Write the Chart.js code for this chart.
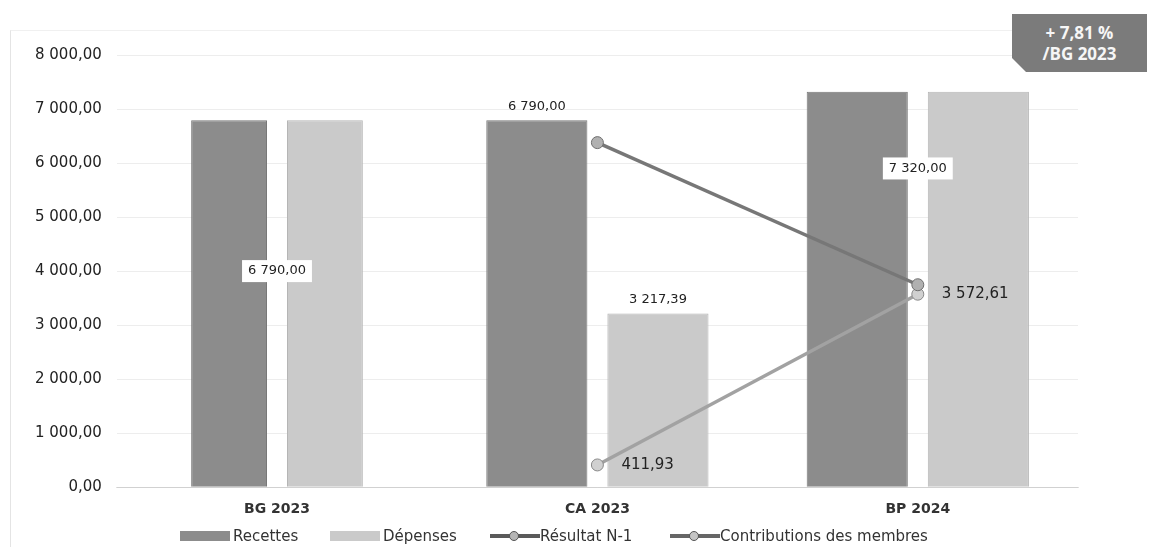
<!DOCTYPE html>
<html lang="fr">
<head>
<meta charset="utf-8">
<script src="https://cdn.jsdelivr.net/npm/chart.js@4.4.1/dist/chart.umd.min.js"></script>
<style>
  html, body { margin: 0; padding: 0; background: #fff; }
  body { width: 1160px; height: 547px; position: relative; overflow: hidden; font-family: "DejaVu Sans", Verdana, sans-serif; }
  #wrap { position: absolute; left: 0; top: 0; width: 1160px; height: 532px; }
  #frame { position: absolute; left: 10px; top: 30px; width: 1095px; height: 520px; border-left: 1px solid #e4e4e4; border-top: 1px solid #f0f0f0; }
  #badge {
    position: absolute; left: 1012px; top: 14px; width: 135px; height: 58px;
    background: #7b7b7b; color: #f6f6f6; font-weight: bold; font-size: 17px; line-height: 21px;
    text-align: center; box-sizing: border-box; padding-top: 8px;
    clip-path: polygon(0 0, 100% 0, 100% 100%, 14px 100%, 0 calc(100% - 14px));
    font-family: "Open Sans", "DejaVu Sans", sans-serif;
  }
  #legend { position: absolute; left: 0; top: 527px; width: 1160px; height: 20px; font-size: 15px; color: #333; white-space: nowrap; }
  #legend span.item { position: absolute; top: 0; }
  .box { display: inline-block; width: 50px; height: 10px; vertical-align: 0px; margin-right: 3px; }
  .ln { display: inline-block; position: relative; width: 50px; height: 10px; vertical-align: 0px; }
  .ln::before { content: ""; position: absolute; left: 0; right: 0; top: 3px; height: 4px; }
  .ln::after { content: ""; position: absolute; left: 19px; top: 0; width: 8px; height: 8px; border-radius: 50%; border: 1px solid #555; }
  .l1::before { background: #5a5a5a; } .l1::after { background: #b5b5b5; }
  .l2::before { background: #666; } .l2::after { background: #c4c4c4; }
</style>
</head>
<body>
<div id="frame"></div>
<div id="wrap"><canvas id="chartBudget" width="1160" height="532"></canvas></div>
<div id="badge">+ 7,81 %<br>/BG 2023</div>
<div id="legend"></div>
<script>
const categories = ["BG 2023", "CA 2023", "BP 2024"];
const recettes = [6790.00, 6790.00, 7320.00];
const depenses = [6790.00, 3217.39, 7320.00];
const resultatN1 = [null, 6378.07, 3747.39];
const contributions = [null, 411.93, 3572.61];
const yTicks = [0, 1000, 2000, 3000, 4000, 5000, 6000, 7000, 8000];

const COLORS = {
  recettes: "#8c8c8c",
  depenses: "#cacaca",
  resultat: "#777777",
  contrib: "#a2a2a2",
  ink: "#222",
  rule: "rgba(0,0,0,0.07)",
};

function frNumber(v) {
  const parts = v.toFixed(2).split(".");
  const int = parts[0].replace(/\B(?=(\d{3})+(?!\d))/g, " ");
  return int + "," + parts[1];
}

// which points get a value label, and how it is placed
const labelRules = [
  { ds: 0, i: 0, mode: "boxMid", yVal: 4000 },
  { ds: 0, i: 1, mode: "above" },
  { ds: 1, i: 1, mode: "above" },
  { ds: 0, i: 2, mode: "boxMid", yVal: 5900 },
  { ds: 3, i: 1, mode: "right", font: 15 },
  { ds: 3, i: 2, mode: "right", font: 15 },
];

const valueLabels = {
  id: "valueLabels",
  afterDatasetsDraw(chart) {
    const { ctx, scales } = chart;
    ctx.save();
    labelRules.forEach(r => {
      const meta = chart.getDatasetMeta(r.ds);
      const el = meta.data[r.i];
      const val = chart.data.datasets[r.ds].data[r.i];
      const txt = frNumber(val);
      ctx.font = (r.font || 13) + 'px "DejaVu Sans", Verdana, sans-serif';
      ctx.fillStyle = COLORS.ink;
      if (r.mode === "above") {
        ctx.textAlign = "center";
        ctx.textBaseline = "bottom";
        ctx.fillText(txt, el.x, el.y - 7);
      } else if (r.mode === "right") {
        ctx.textAlign = "left";
        ctx.textBaseline = "middle";
        ctx.fillText(txt, el.x + 24, el.y);
      } else if (r.mode === "boxMid") {
        const cx = scales.x.getPixelForValue(r.i);
        const cy = scales.y.getPixelForValue(r.yVal);
        const w = ctx.measureText(txt).width + 12;
        ctx.fillStyle = "#fff";
        ctx.fillRect(cx - w / 2, cy - 11, w, 22);
        ctx.fillStyle = COLORS.ink;
        ctx.textAlign = "center";
        ctx.textBaseline = "middle";
        ctx.fillText(txt, cx, cy);
      }
    });
    ctx.restore();
  }
};

// the BG 2023 pair is drawn narrower than the others; keep the inner edges
const narrowFirstPair = {
  id: "narrowFirstPair",
  afterDatasetsUpdate(chart) {
    const factor = 0.75;
    [0, 1].forEach(ds => {
      const el = chart.getDatasetMeta(ds).data[0];
      if (!el) return;
      const w = el.width;
      const nw = w * factor;
      el.x = ds === 0 ? el.x + (w - nw) / 2 : el.x - (w - nw) / 2;
      el.width = nw;
    });
  }
};

const ctx = document.getElementById("chartBudget").getContext("2d");
const config = {
  data: {
    labels: categories,
    datasets: [
      {
        type: "bar",
        label: "Recettes",
        data: recettes,
        backgroundColor: COLORS.recettes,
        borderColor: "#787878",
        borderWidth: 1,
        categoryPercentage: 0.756,
        barPercentage: 0.835,
        order: 2,
      },
      {
        type: "bar",
        label: "Dépenses",
        data: depenses,
        backgroundColor: COLORS.depenses,
        borderColor: "#b5b5b5",
        borderWidth: 1,
        categoryPercentage: 0.756,
        barPercentage: 0.835,
        order: 2,
      },
      {
        type: "line",
        label: "Résultat N-1",
        data: resultatN1,
        borderColor: COLORS.resultat,
        borderWidth: 3.5,
        pointRadius: 6,
        pointBackgroundColor: "#b0b0b0",
        pointBorderColor: "#6e6e6e",
        pointBorderWidth: 1,
        spanGaps: false,
        order: 0,
      },
      {
        type: "line",
        label: "Contributions des membres",
        data: contributions,
        borderColor: COLORS.contrib,
        borderWidth: 3.5,
        pointRadius: 6,
        pointBackgroundColor: "#d0d0d0",
        pointBorderColor: "#888",
        pointBorderWidth: 1,
        spanGaps: false,
        order: 0,
      },
    ]
  },
  options: {
    responsive: false,
    animation: false,
    layout: { padding: { top: 55, right: 82, left: 20, bottom: 8 } },
    plugins: {
      legend: { display: false },
      tooltip: { enabled: false },
    },
    scales: {
      x: {
        grid: { display: false },
        border: { color: "rgba(0,0,0,0.12)" },
        ticks: {
          color: "#333",
          font: { family: "DejaVu Sans", size: 14, weight: "bold" },
          padding: 6,
        },
      },
      y: {
        min: 0,
        max: 8000,
        afterBuildTicks: axis => { axis.ticks = yTicks.map(v => ({ value: v })); },
        grid: { color: COLORS.rule, drawTicks: false },
        border: { display: false },
        ticks: {
          color: COLORS.ink,
          font: { family: "DejaVu Sans", size: 15 },
          padding: 15,
          callback: v => frNumber(v),
        },
      }
    }
  },
  plugins: [narrowFirstPair, valueLabels]
};

const chart = new Chart(ctx, config);

// legend below the chart, built from the dataset labels
const legend = document.getElementById("legend");
const legendKinds = ["box", "box", "l1", "l2"];
const legendLeft = [180, 330, 490, 670];
config.data.datasets.forEach((ds, k) => {
  const item = document.createElement("span");
  item.className = "item";
  item.style.left = legendLeft[k] + "px";
  const sw = document.createElement("span");
  if (legendKinds[k] === "box") {
    sw.className = "box";
    sw.style.background = ds.backgroundColor;
  } else {
    sw.className = "ln " + legendKinds[k];
  }
  item.appendChild(sw);
  item.appendChild(document.createTextNode(ds.label));
  legend.appendChild(item);
});
</script>
</body>
</html>
